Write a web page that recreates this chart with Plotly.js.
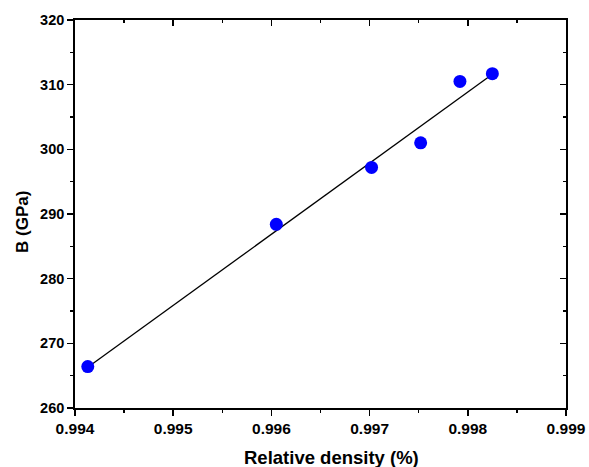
<!DOCTYPE html>
<html><head><meta charset="utf-8">
<script src="https://cdn.plot.ly/plotly-3.0.1.min.js"></script>
<style>html,body{margin:0;padding:0;background:#fff}#c{width:589px;height:467px}</style>
</head><body><div id="c"></div>
<script>
const density = [0.99413, 0.99605, 0.99702, 0.99752, 0.99792, 0.99825];
const bulk = [266.4, 288.4, 297.2, 301.0, 310.5, 311.7];
const fitX = [0.99413, 0.99825];
const fitY = [266.3, 311.6];
const xTicks = [0.994, 0.995, 0.996, 0.997, 0.998, 0.999];
const yTicks = [260, 270, 280, 290, 300, 310, 320];
const xTitle = 'Relative density (%)';
const yTitle = 'B (GPa)';

const F = 'Liberation Sans, Arial, sans-serif';
const traces = [
  {x: fitX, y: fitY, mode: 'lines', line: {color: '#000', width: 1.3}, showlegend: false, hoverinfo: 'skip'},
  {x: density, y: bulk, mode: 'markers', marker: {color: '#0000ff', size: 13}, showlegend: false}
];
const axBase = {showgrid: false, zeroline: false, showline: true, linecolor: '#000', linewidth: 1.8,
  tickcolor: '#000', tickwidth: 1.5,
  minor: {ticks: 'outside', ticklen: 3, tickcolor: '#000', tickwidth: 1.5}};
const layout = {
  width: 589, height: 467,
  margin: {l: 75, r: 23, t: 20, b: 59},
  paper_bgcolor: '#fff', plot_bgcolor: '#fff',
  xaxis: Object.assign({}, axBase, {range: [0.994, 0.999], tickvals: xTicks, ticktext: xTicks.map(v => '<b>' + v.toFixed(3) + '</b>'),
    ticks: 'outside', ticklen: 6, minor: Object.assign({}, axBase.minor, {dtick: 0.0005}),
    tickfont: {family: F, size: 15.5, color: '#000'}}),
  yaxis: Object.assign({}, axBase, {range: [260, 320], tickvals: yTicks, ticktext: yTicks.map(v => '<b>' + v + '</b>'),
    ticks: 'outside', ticklen: 6,
    minor: Object.assign({}, axBase.minor, {dtick: 5}),
    tickfont: {family: F, size: 14.5, color: '#000'}}),
  xaxis2: Object.assign({}, axBase, {overlaying: 'x', side: 'top', range: [0.994, 0.999], tickvals: xTicks,
    ticks: 'inside', ticklen: 6, showticklabels: false, minor: {ticks: 'inside', ticklen: 3, tickcolor: '#000', tickwidth: 1.5, dtick: 0.0005}}),
  yaxis2: Object.assign({}, axBase, {overlaying: 'y', side: 'right', range: [260, 320], tickvals: yTicks,
    ticks: 'inside', ticklen: 6, showticklabels: false, minor: {ticks: 'inside', ticklen: 3, tickcolor: '#000', tickwidth: 1.5, dtick: 5}}),
  annotations: [
    {text: '<b>' + xTitle + '</b>', xref: 'paper', yref: 'paper', x: (331 - 75) / 491, y: -(457 - 408) / 388,
      xanchor: 'center', yanchor: 'middle', showarrow: false, font: {family: F, size: 18.5, color: '#000'}},
    {text: '<b>' + yTitle + '</b>', xref: 'paper', yref: 'paper', x: -(75 - 23) / 491, y: (408 - 222) / 388,
      xanchor: 'center', yanchor: 'middle', textangle: -90, showarrow: false, font: {family: F, size: 17, color: '#000'}}
  ]
};
traces.push({x: [0.994], y: [260], xaxis: 'x2', yaxis: 'y2', mode: 'markers', marker: {opacity: 0}, showlegend: false, hoverinfo: 'skip'});
Plotly.newPlot('c', traces, layout, {staticPlot: true});
</script></body></html>
